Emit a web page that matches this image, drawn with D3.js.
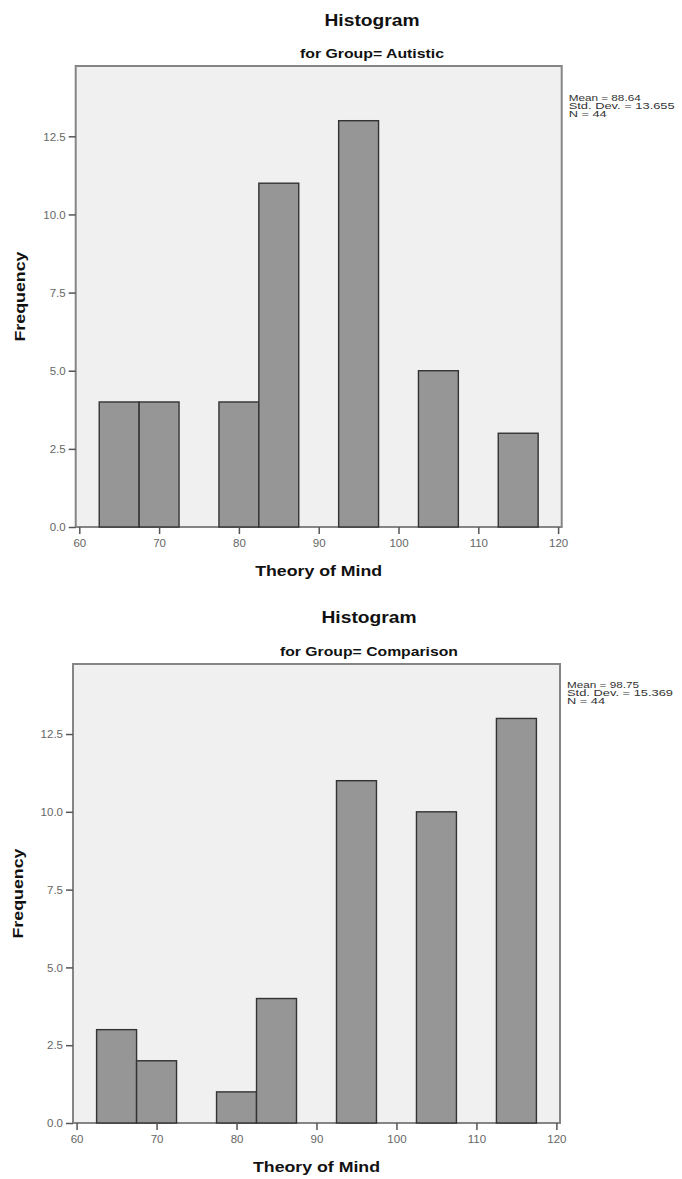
<!DOCTYPE html>
<html><head><meta charset="utf-8">
<script src="https://cdn.jsdelivr.net/npm/d3@7"></script>
<style>body{margin:0;background:#fff}svg{display:block}</style>
</head><body><svg id="c" width="682" height="1179"></svg>
<script>
const binStarts = [62.5, 67.5, 77.5, 82.5, 92.5, 102.5, 112.5];
const binWidth = 5;
const autisticCounts = [4, 4, 4, 11, 13, 5, 3];
const comparisonCounts = [3, 2, 1, 4, 11, 10, 13];
const xTicks = [60, 70, 80, 90, 100, 110, 120];
const yTicks = [0, 2.5, 5, 7.5, 10, 12.5];
const groups = ["Autistic", "Comparison"];
const statsAutistic = ["Mean = 88.64", "Std. Dev. = 13.655", "N = 44"];
const statsComparison = ["Mean = 98.75", "Std. Dev. = 15.369", "N = 44"];

const svg = d3.select("#c");
const font = "Arial, 'Liberation Sans', sans-serif";

function txt(g, x, y, s, size, bold, anchor, len, fill) {
  const t = g.append("text").attr("x", x).attr("y", y).attr("text-anchor", anchor || "start")
    .attr("font-family", font).attr("font-size", size).attr("font-weight", bold ? "bold" : "normal")
    .attr("fill", fill || "#111").text(s);
  if (len) t.attr("textLength", len).attr("lengthAdjust", "spacingAndGlyphs");
  return t;
}

function panel(cfg) {
  const g = svg.append("g");
  const x = d3.scaleLinear().domain([59.55, 120.45]).range([cfg.left, cfg.right]);
  const y = d3.scaleLinear().domain([0, 14.75]).range([cfg.bottom, cfg.top]);
  txt(g, cfg.cx, cfg.titleY, "Histogram", 17, true, "middle", 95);
  txt(g, cfg.cx, cfg.subY, "for Group= " + cfg.group, 12, true, "middle", cfg.subLen);
  g.append("rect").attr("x", cfg.left).attr("y", cfg.top).attr("width", cfg.right - cfg.left).attr("height", cfg.bottom - cfg.top)
    .attr("fill", "#f0f0f0").attr("stroke", "#858585").attr("stroke-width", 2);
  g.selectAll("rect.bar").data(cfg.counts.map((c, i) => ({c, s: binStarts[i]}))).join("rect")
    .attr("class", "bar")
    .attr("x", d => x(d.s)).attr("width", d => x(d.s + binWidth) - x(d.s))
    .attr("y", d => y(d.c)).attr("height", d => y(0) - y(d.c))
    .attr("fill", "#969696").attr("stroke", "#333").attr("stroke-width", 1.4);
  const xa = g.append("g").attr("transform", `translate(0,${cfg.bottom})`)
    .call(d3.axisBottom(x).tickValues(xTicks).tickSize(7).tickPadding(5).tickSizeOuter(0).tickFormat(d3.format("d")));
  xa.select(".domain").remove();
  xa.selectAll("line").attr("stroke", "#555").attr("stroke-width", 1.5);
  xa.selectAll("text").attr("font-family", font).attr("font-size", 11.5).attr("fill", "#666");
  const ya = g.append("g").attr("transform", `translate(${cfg.left},0)`)
    .call(d3.axisLeft(y).tickValues(yTicks).tickSize(7).tickPadding(3).tickSizeOuter(0).tickFormat(d3.format(".1f")));
  ya.select(".domain").remove();
  ya.selectAll("line").attr("stroke", "#555").attr("stroke-width", 1.5);
  ya.selectAll("text").attr("font-family", font).attr("font-size", 11.5).attr("fill", "#666");
  txt(g, (cfg.left + cfg.right) / 2, cfg.xLabY, "Theory of Mind", 15, true, "middle", 127);
  txt(g, 0, 0, "Frequency", 14, true, "middle", 90)
    .attr("transform", `translate(${cfg.yLabX},${(cfg.top + cfg.bottom) / 2}) rotate(-90)`);
  cfg.stats.forEach((s, i) => {
    txt(g, cfg.right + 7, cfg.statsY + i * 8, s, 9, false, "start", [72, 106, 38][i], "#333");
  });
}

panel({group: groups[0], counts: autisticCounts, stats: statsAutistic, subLen: 144,
  left: 75.7, right: 561.7, top: 66, bottom: 527, cx: 372, titleY: 26, subY: 58, xLabY: 576, yLabX: 25, statsY: 101});
panel({group: groups[1], counts: comparisonCounts, stats: statsComparison, subLen: 178,
  left: 73, right: 560, top: 664, bottom: 1123, cx: 369, titleY: 623, subY: 656, xLabY: 1172, yLabX: 23, statsY: 688});
</script></body></html>
